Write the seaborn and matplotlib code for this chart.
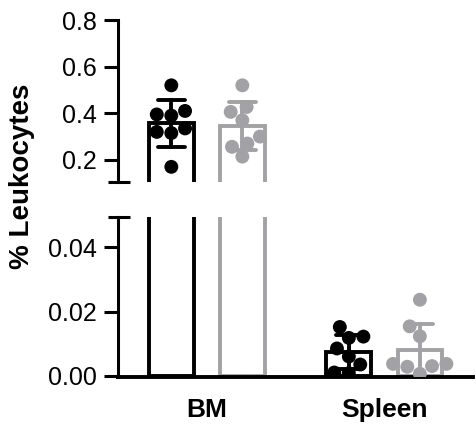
import numpy as np
import pandas as pd
import matplotlib
matplotlib.use("Agg")
import matplotlib.pyplot as plt
import seaborn as sns

# values (% leukocytes per animal)
tissues = ["BM", "Spleen"]
groups = ["Group 1", "Group 2"]
bm_black = [0.52, 0.41, 0.395, 0.39, 0.335, 0.32, 0.315, 0.17]
bm_gray = [0.52, 0.427, 0.406, 0.37, 0.30, 0.27, 0.256, 0.214]
spleen_black = [0.0152, 0.0122, 0.0118, 0.0085, 0.006, 0.0035, 0.001, 0.0008]
spleen_gray = [0.0237, 0.0154, 0.0123, 0.0037, 0.0028, 0.003, 0.0037, 0.0006]

top_ticks = [0.2, 0.4, 0.6, 0.8]
bottom_ticks = [0.00, 0.02, 0.04]
colors = ["#000000", "#a2a2a6"]

rows = []
for tissue, group, vals in [("BM", groups[0], bm_black), ("BM", groups[1], bm_gray),
                            ("Spleen", groups[0], spleen_black), ("Spleen", groups[1], spleen_gray)]:
    for v in vals:
        rows.append({"tissue": tissue, "group": group, "value": v})
df = pd.DataFrame(rows)

sns.set_style("ticks")
plt.rcParams["font.family"] = ["Liberation Sans", "DejaVu Sans"]
plt.rcParams["text.color"] = "black"
plt.rcParams["axes.labelcolor"] = "black"
plt.rcParams["axes.edgecolor"] = "black"
plt.rcParams["xtick.color"] = "black"
plt.rcParams["ytick.color"] = "black"

fig = plt.figure(figsize=(4.76, 4.26), dpi=100)
ax_top = fig.add_axes([0.248, 0.5728, 0.746, 0.380])
ax_bot = fig.add_axes([0.248, 0.115, 0.746, 0.3756])

lw = 2.8
for ax in (ax_top, ax_bot):
    sns.barplot(data=df, x="tissue", y="value", hue="group", order=tissues, hue_order=groups,
                palette=colors, fill=False, width=0.8, gap=0.37, linewidth=lw,
                errorbar="sd", capsize=0.3, err_kws={"linewidth": lw},
                legend=False, ax=ax)
    sns.swarmplot(data=df, x="tissue", y="value", hue="group", order=tissues, hue_order=groups,
                  palette=colors, dodge=True, size=10, linewidth=0, legend=False,
                  zorder=5, ax=ax, warn_thresh=1)
    ax.set_xlim(-0.5, 1.5)
    ax.set_xlabel("")
    ax.set_ylabel("")
    for s in ("top", "right"):
        ax.spines[s].set_visible(False)
    ax.spines["left"].set_linewidth(2.2)
    ax.tick_params(axis="y", length=10, width=2.2, labelsize=18, pad=5)
    ax.set_facecolor("none")

ax_top.set_ylim(0.105, 0.8)
ax_top.set_yticks(top_ticks)
ax_top.set_yticklabels([f"{t:.1f}" for t in top_ticks])
ax_top.spines["bottom"].set_visible(False)
ax_top.tick_params(axis="x", bottom=False, labelbottom=False)

ax_bot.set_ylim(-0.0004, 0.0495)
ax_bot.set_yticks(bottom_ticks)
ax_bot.set_yticklabels([f"{t:.2f}" for t in bottom_ticks])
ax_bot.spines["bottom"].set_linewidth(2.8)
ax_bot.tick_params(axis="x", length=0, labelsize=19, pad=15)
for lab in ax_bot.get_xticklabels():
    lab.set_fontweight("bold")
ax_bot.axhline(0, color="black", lw=1, ls=(0, (1, 3)), zorder=1)

# axis break marks
ax_top.plot([-0.028, 0.034], [0, 0], transform=ax_top.transAxes, color="black",
            lw=2.2, clip_on=False, solid_capstyle="butt")
ax_bot.plot([-0.028, 0.034], [1, 1], transform=ax_bot.transAxes, color="black",
            lw=2.2, clip_on=False, solid_capstyle="butt")

fig.text(0.046, 0.585, "% Leukocytes", rotation=90, ha="center", va="center",
         fontsize=20, fontweight="bold")

fig.savefig("out.png", dpi=100)
